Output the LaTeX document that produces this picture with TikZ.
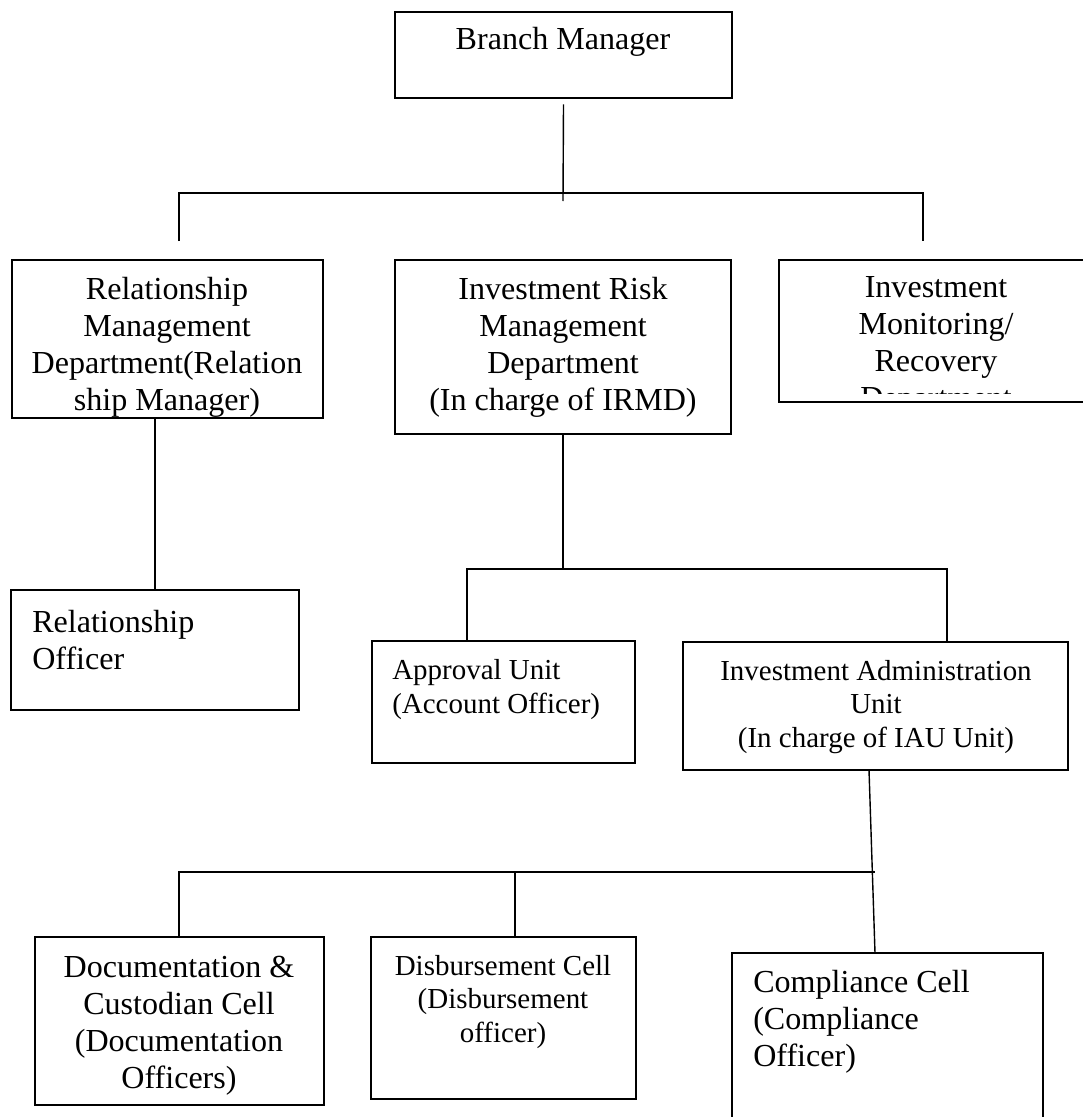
\documentclass[tikz,border=0pt]{standalone}
\usepackage{fontspec}
\setmainfont{Liberation Serif}
\usetikzlibrary{fit, positioning}

\newcommand{\orgfont}{\fontsize{22.8pt}{26.1pt}\selectfont}
\newcommand{\orgsmall}{\fontsize{20.6pt}{23.8pt}\selectfont}

\tikzset{
  box/.style={draw, line width=1pt, inner sep=0pt},
  lbl/.style={font=\orgfont, align=center, inner sep=0pt, anchor=base},
  lblleft/.style={font=\orgfont, align=left, inner sep=0pt, anchor=base west},
  lblsmall/.style={font=\orgsmall, align=center, inner sep=0pt, anchor=base},
  link/.style={line width=1pt},
}

\begin{document}
\begin{tikzpicture}[x=0.025cm, y=-0.025cm]
  \useasboundingbox (0,0) rectangle (1083,1117);
  \clip (0,0) rectangle (1083,1117);

  % top level (text placed at the baseline of its last line)
  \node (bm) [box, fit={(395,12) (732,98)}] {};
  \node (bmtext) [lbl] at (563,50) {Branch Manager};

  % departments
  \node (rm) [box, fit={(12,260) (323,418)}] {};
  \node (rmtext) [lbl] at (167,410) {Relationship\\Management\\Department(Relation\\ship Manager)};

  \node (irmd) [box, fit={(395,260) (731,434)}] {};
  \node (irmdtext) [lbl] at (563,410) {Investment Risk\\Management\\Department\\(In charge of IRMD)};

  \node (imr) [box, fit={(779,260) (1095,402)}] {};
  \begin{scope}
    \clip (779,260) rectangle (1095,393);
    \node (imrtext) [lbl] at (936,408) {Investment\\Monitoring/\\Recovery\\Department};
  \end{scope}

  % second level
  \node (ro) [box, fit={(11,590) (299,710)}] {};
  \node (rotext) [lblleft] at (32,669) {Relationship\\Officer};

  \node (au) [box, fit={(372,641) (635,763)}] {};
  \node (autext) [lblleft, font=\orgsmall] at (392,713) {Approval Unit\\(Account Officer)};

  \node (iau) [box, fit={(683,642) (1068,770)}] {};
  \node (iautext) [lblsmall] at (876,747) {Investment Administration\\Unit\\(In charge of IAU Unit)};

  % cells
  \node (doc) [box, fit={(35,937) (324,1105)}] {};
  \node (doctext) [lbl] at (179,1088) {Documentation \&\\Custodian Cell\\(Documentation\\Officers)};

  \node (disb) [box, fit={(371,937) (636,1099)}] {};
  \node (disbtext) [lblsmall] at (503,1042) {Disbursement Cell\\(Disbursement\\officer)};

  \node (comp) [box, fit={(732,953) (1043,1140)}] {};
  \node (comptext) [lblleft] at (753,1066) {Compliance Cell\\(Compliance\\Officer)};

  % junctions
  \coordinate (bmend) at (563,201);
  \coordinate (rmtop) at (179,241);
  \coordinate (imrtop) at (923,241);
  \coordinate (hbar) at (0,193);
  \coordinate (rmfoot) at (155,418);
  \coordinate (rohead) at (155,590);
  \coordinate (irmdfoot) at (563,434);
  \coordinate (ibar) at (0,569);
  \coordinate (auhead) at (467,641);
  \coordinate (iauhead) at (947,642);
  \coordinate (iaufoot) at (869,770);
  \coordinate (comphead) at (875,953);
  \coordinate (cbar) at (875,872);
  \coordinate (dochead) at (179,937);
  \coordinate (disbhead) at (515,937);

  % connectors
  \draw[link] ([yshift=-4]bm.south) -- (bmend);
  \draw[link] (rmtop) -- (rmtop |- hbar) -- (imrtop |- hbar) -- (imrtop);
  \draw[link] (rmfoot) -- (rohead);
  \draw[link] (irmdfoot) -- (irmdfoot |- ibar);
  \draw[link] (auhead) -- (auhead |- ibar) -- (iauhead |- ibar) -- (iauhead);
  \draw[link] (iaufoot) -- (comphead);
  \draw[link] (dochead) -- (dochead |- cbar) -- (cbar);
  \draw[link] (disbhead) -- (disbhead |- cbar);
\end{tikzpicture}
\end{document}
